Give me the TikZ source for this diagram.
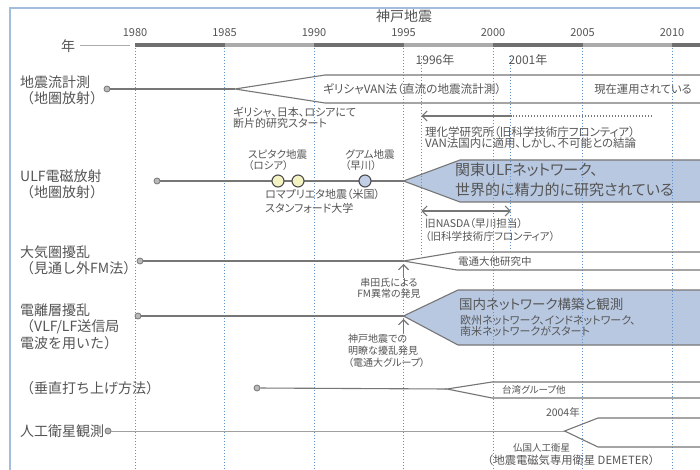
\documentclass[tikz,border=0pt]{standalone}
\usepackage{fontspec}
\newfontfamily\jp[RawFeature=+palt]{Noto Sans CJK JP}
\newfontfamily\jpn{Noto Sans CJK JP}
\usetikzlibrary{arrows.meta}
\definecolor{txt}{HTML}{555555}
\definecolor{ln}{HTML}{767676}
\definecolor{dotb}{HTML}{5E8FCB}
\definecolor{wedgeblue}{HTML}{B8C8E1}
\definecolor{framec}{HTML}{A3BEDD}
\definecolor{bardark}{HTML}{6F6F6F}
\definecolor{barlight}{HTML}{ABABAB}
\definecolor{ylw}{HTML}{F3F2C2}
\definecolor{cblue}{HTML}{C2CEE6}
\newcommand\fsz[2]{\fontsize{#1}{#2}\selectfont}
\tikzset{mybarb/.tip={Straight Barb[length=5pt,width=10pt,line width=1.1pt]}}
\begin{document}
\begin{tikzpicture}[x=1pt,y=-1pt,
  every node/.style={text=txt, inner sep=0pt, font=\jp\fsz{10}{11}},
  rowlabel/.style={anchor=west, align=left, font=\jpn\fsz{14}{16.3}},
  yearlab/.style={font=\jp\fsz{11}{12}},
  note/.style={anchor=west, align=left, font=\jp\fsz{10}{11.5}},
  notec/.style={align=center, font=\jp\fsz{10}{11}},
  dotv/.style={draw=dotb, line width=1pt, dash pattern=on 1.1pt off 1.9pt},
  rowline/.style={draw=ln, line width=1.1pt},
  startdot/.style={circle, fill=gray!55, draw=ln, line width=0.8pt, minimum size=6pt, inner sep=0pt},
  eventdot/.style={circle, draw=black!70, line width=1.1pt, minimum size=12pt, inner sep=0pt},
  wedgeline/.style={draw=ln, line width=1.1pt},
  barb/.style={draw=ln, line width=1.1pt}
]
\useasboundingbox (0,0) rectangle (700,470);
\fill[white] (0,0) rectangle (700,470);

% ---------- wedge fills ----------
\fill[white] (235,89) -- (325,75) -- (700,75) -- (700,103) -- (325,103) -- cycle;
\fill[wedgeblue] (403.5,181) -- (460,160) -- (700,160) -- (700,202) -- (460,202) -- cycle;
\fill[white] (403.5,261) -- (457,252) -- (700,252) -- (700,270) -- (457,270) -- cycle;
\fill[wedgeblue] (403.5,316) -- (458,290) -- (700,290) -- (700,345) -- (458,345) -- cycle;
\fill[white] (447,389) -- (492,382) -- (700,382) -- (700,398) -- (492,398) -- cycle;
\fill[white] (564.6,431) -- (598,418) -- (700,418) -- (700,447) -- (598,447) -- cycle;

% ---------- dotted year lines ----------
\foreach \x in {135,224.5,314,403.5,493,582.5,672}
  \draw[dotv] (\x,48) -- (\x,470);
\draw[dotv] (421.4,56) -- (421.4,256);
\draw[dotv] (510.9,56) -- (510.9,250);

% ---------- frame ----------
\draw[framec, line width=1.5pt] (10,470) -- (10,8) -- (700,8);

% ---------- year axis ----------
\node[font=\jpn\fsz{14}{16}] (nen) at (68,46) {年};
\coordinate (axl) at (80,46);
\coordinate (axr) at (130,46);
\draw[draw=barlight, line width=1pt] (axl) -- (axr);
\fill[bardark] (135,43) rectangle (224.5,47.5);
\fill[barlight] (224.5,43) rectangle (314,47.5);
\fill[bardark] (314,43) rectangle (403.5,47.5);
\fill[barlight] (403.5,43) rectangle (493,47.5);
\fill[bardark] (493,43) rectangle (582.5,47.5);
\fill[barlight] (582.5,43) rectangle (672,47.5);
\fill[bardark] (672,43) rectangle (700,47.5);

\node[yearlab] (y80) at (135,33) {1980};
\node[yearlab] (y85) at (224.5,33) {1985};
\node[yearlab] (y90) at (314,33) {1990};
\node[yearlab] (y95) at (403.5,33) {1995};
\node[yearlab] (y00) at (493,33) {2000};
\node[yearlab] (y05) at (582.5,33) {2005};
\node[yearlab] (y10) at (672,33) {2010};
\node[font=\jp\fsz{14}{15}] (kobe) at (404,16) {神戸地震};
\node[font=\jp\fsz{12}{13}] (y96) at (435,60) {1996年};
\node[font=\jp\fsz{12}{13}] (y01) at (528,60) {2001年};

% ---------- row 1 ----------
\node[rowlabel] (r1) at (20,90) {地震流計測\\（地圏放射）};
\node[startdot] (s1) at (107,89) {};
\coordinate (w1) at (235,89);
\draw[rowline] (s1) -- (w1);
\draw[wedgeline] (700,75) -- (325,75) -- (w1) -- (325,103) -- (700,103);
\node[anchor=west, font=\jp\fsz{11.6}{12}] (van) at (323,89) {ギリシャVAN法（直流の地震流計測）};
\node[anchor=east, font=\jp\fsz{11.3}{12}] (unyo) at (692,89) {現在運用されている};
\node[note, font=\jp\fsz{11}{11}] (greek) at (233,118) {ギリシャ、日本、ロシアにて\\断片的研究スタート};
\coordinate (a1s) at (652,116);
\coordinate (a1m) at (510.9,116);
\coordinate (a1e) at (421.4,116);
\draw[barb, dash pattern=on 1.5pt off 1.5pt] (a1s) -- (a1m);
\draw[barb, -{mybarb}] (a1m) -- (a1e);
\node[note, font=\jp\fsz{11.5}{11.5}] (riken) at (425,137.5) {理化学研究所（旧科学技術庁フロンティア）\\VAN法国内に適用、しかし、不可能との結論};

% ---------- row 2 ----------
\node[rowlabel] (r2) at (20,184.5) {ULF電磁放射\\（地圏放射）};
\node[startdot] (s2) at (157,181) {};
\coordinate (w2) at (403.5,181);
\draw[rowline] (s2) -- (w2);
\node[eventdot, fill=ylw] (e1) at (278,181) {};
\node[eventdot, fill=ylw] (e2) at (298,181) {};
\node[eventdot, fill=cblue] (e3) at (365,181) {};
\draw[wedgeline] (700,160) -- (460,160) -- (w2) -- (460,202) -- (700,202);
\node[note, font=\jp\fsz{10.5}{11}] (spitak) at (248,160) {スピタク地震\\（ロシア）};
\node[note, font=\jp\fsz{10.5}{11}] (guam) at (345,160) {グアム地震\\（早川）};
\node[note, font=\jp\fsz{11}{13.5}] (loma) at (265,201) {ロマプリエタ地震（米国）\\スタンフォード大学};
\node[anchor=west, align=left, font=\jp\fsz{15}{20}] (kanto) at (455,180) {関東ULFネットワーク、\\世界的に精力的に研究されている};
\coordinate (n1) at (421.4,211);
\coordinate (n2) at (510.9,211);
\draw[barb, {mybarb}-{mybarb}] (n1) -- (n2);
\node[note, font=\jp\fsz{10.6}{13}] (nasda) at (425,230) {旧NASDA（早川担当）\\（旧科学技術庁フロンティア）};

% ---------- row 3 ----------
\node[rowlabel] (r3) at (20,260.5) {大気圏擾乱\\（見通し外FM法）};
\node[startdot] (s3) at (140,261) {};
\coordinate (w3) at (403.5,261);
\draw[rowline] (s3) -- (w3);
\draw[wedgeline] (700,252) -- (457,252) -- (w3) -- (457,270) -- (700,270);
\node[anchor=west, font=\jp\fsz{10.5}{12}] (dentsu) at (458,262) {電通大他研究中};
\node[notec] (kushida) at (389,288.5) {串田氏による\\FM異常の発見};
\coordinate (u3) at (403.5,264);
\coordinate (u3b) at (403.5,278);
\draw[barb, -{mybarb}] (u3b) -- (u3);

% ---------- row 4 ----------
\node[rowlabel] (r4) at (20,326.5) {電離層擾乱\\（VLF/LF送信局\\電波を用いた）};
\node[startdot] (s4) at (138,316) {};
\coordinate (w4) at (403.5,316);
\draw[rowline] (s4) -- (w4);
\draw[wedgeline] (700,290) -- (458,290) -- (w4) -- (458,345) -- (700,345);
\node[anchor=west, font=\jp\fsz{13.5}{16}] (kokunai) at (459,304.5) {国内ネットワーク構築と観測};
\node[note, font=\jp\fsz{11}{11}] (oshu) at (460,325.5) {欧州ネットワーク、インドネットワーク、\\南米ネットワークがスタート};
\coordinate (u4) at (403.5,319);
\coordinate (u4b) at (403.5,333);
\draw[barb, -{mybarb}] (u4b) -- (u4);
\node[note, font=\jp\fsz{10}{12}] (kobeobs) at (348,351) {神戸地震での\\明瞭な擾乱発見\\（電通大グループ）};

% ---------- row 5 ----------
\node[rowlabel] (r5) at (20,388) {（垂直打ち上げ方法）};
\node[startdot] (s5) at (257,388) {};
\coordinate (w5) at (447,389);
\draw[rowline] (s5) -- (w5);
\draw[wedgeline] (700,382) -- (492,382) -- (w5) -- (492,398) -- (700,398);
\node[anchor=west, font=\jp\fsz{9.5}{12}] (taiwan) at (502,390) {台湾グループ他};

% ---------- row 6 ----------
\node[rowlabel] (r6) at (20,431) {人工衛星観測};
\node[startdot] (s6) at (108,431) {};
\coordinate (w6) at (564.6,431);
\draw[draw=ln!70, line width=0.8pt] (s6) -- (w6);
\draw[wedgeline] (700,418) -- (598,418) -- (w6) -- (598,447) -- (700,447);
\node[anchor=east, font=\jp\fsz{10.5}{12}] (y04) at (580,412) {2004年};
\node[anchor=west, font=\jp\fsz{9.5}{12}] (futsu) at (513,448) {仏国人工衛星};
\node[anchor=west, font=\jpn\fsz{11.3}{12}] (demeter) at (482,460) {（地震電磁気専用衛星 DEMETER）};
\end{tikzpicture}
\end{document}
